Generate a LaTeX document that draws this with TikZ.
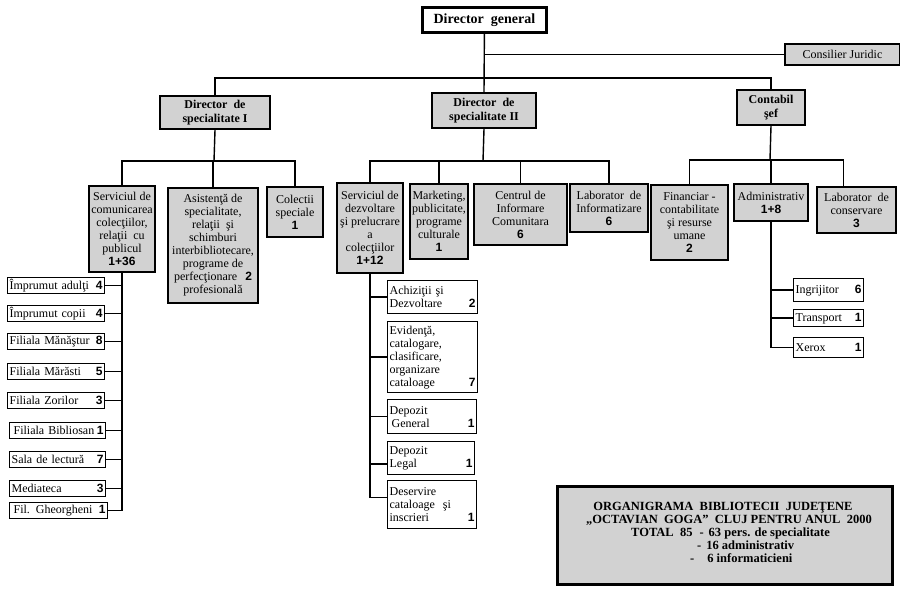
\documentclass[tikz,border=0pt]{standalone}
\usepackage{fontspec}
\setmainfont{Liberation Serif}
\setsansfont{Liberation Sans}
\usetikzlibrary{calc}
\definecolor{boxgray}{RGB}{210,210,210}
\newcommand\nm[1]{{\sffamily\bfseries\fontsize{12}{12}\selectfont #1}}
\newcommand\nr[1]{\hskip 0pt plus 1fill\nm{#1}}
\tikzset{
  gbox/.style={draw, line width=2pt, fill=boxgray, align=center, inner sep=1pt,
    anchor=north west, font=\fontsize{12}{13}\selectfont},
  dbox/.style={gbox, font=\bfseries\fontsize{12}{14}\selectfont},
  wbox/.style={draw, line width=1.3pt, fill=white, anchor=north west, align=left,
    inner xsep=2pt, inner ysep=0pt, font=\fontsize{12}{13}\selectfont},
  conn/.style={line width=1.4pt},
  ttl/.style={font=\bfseries\fontsize{12.5}{13}\selectfont, inner sep=0pt}
}
\begin{document}
\begin{tikzpicture}[x=1pt,y=-1pt]
\useasboundingbox (0,0) rectangle (900,591);
% top level
\node[draw, line width=2.8pt, fill=white, anchor=north west, minimum width=124,
  minimum height=25, inner sep=1pt, font=\bfseries\fontsize{14}{16}\selectfont]
  (dg) at (421,6) {Director~~general};
\node[gbox, minimum width=115, minimum height=21] (cj) at (784,43) {Consilier Juridic};
\node[dbox, minimum width=110, minimum height=33] (d1) at (159,95) {Director~ de\\specialitate I};
\node[dbox, minimum width=104, minimum height=35] (d2) at (431,92) {Director~ de\\specialitate II};
\node[dbox, minimum width=68, minimum height=35] (cb) at (736,89) {Contabil\\şef};
% Director I children
\node[gbox, minimum width=66, minimum height=86] (s1) at (88,185)
  {Serviciul de\\comunicarea\\colecţiilor,\\relaţii~ cu\\publicul\\\nm{1+36}};
\node[gbox, minimum width=90, minimum height=115] (as) at (167,187)
  {Asistenţă de\\specialitate,\\relaţii~ şi\\schimburi\\interbibliotecare,\\programe de\\perfecţionare\hspace{8pt}\nm{2}\\profesională};
\node[gbox, minimum width=56, minimum height=50] (col) at (266,186)
  {Colectii\\speciale\\\nm{1}};
% Director II children
\node[gbox, minimum width=66, minimum height=90] (s2) at (336,182)
  {Serviciul de\\dezvoltare\\şi prelucrare\\a\\colecţiilor\\\nm{1+12}};
\node[gbox, minimum width=58, minimum height=75] (mk) at (409,183)
  {Marketing,\\publicitate,\\programe\\culturale\\\nm{1}};
\node[gbox, minimum width=93, minimum height=61] (ci) at (473,183)
  {Centrul de\\Informare\\Comunitara\\\nm{6}};
\node[gbox, minimum width=78, minimum height=48] (li) at (569,183)
  {Laborator~ de\\Informatizare\\\nm{6}};
% Contabil children
\node[gbox, minimum width=77, minimum height=75] (fi) at (650,184)
  {Financiar -\\contabilitate\\şi resurse\\umane\\\nm{2}};
\node[gbox, minimum width=74, minimum height=37] (ad) at (733,183)
  {Administrativ\\\nm{1+8}};
\node[gbox, minimum width=79, minimum height=46] (lc) at (816,186)
  {Laborator~ de\\conservare\\\nm{3}};
% left list
\node[wbox, text width=93, minimum height=16] (l1) at (7,277) {Împrumut adulţi\nr{4}};
\node[wbox, text width=93, minimum height=16] (l2) at (7,305) {Împrumut copii\nr{4}};
\node[wbox, text width=93, minimum height=16] (l3) at (7,333) {Filiala Mănăştur\nr{8}};
\node[wbox, text width=93, minimum height=16] (l4) at (7,363) {Filiala Mărăsti\nr{5}};
\node[wbox, text width=93, minimum height=16] (l5) at (7,392) {Filiala Zorilor\nr{3}};
\node[wbox, text width=92, minimum height=16] (l6) at (9,422) {\hspace*{2pt}Filiala Bibliosan\nr{1}};
\node[wbox, text width=92, minimum height=16] (l7) at (9,451) {Sala de lectură\nr{7}};
\node[wbox, text width=92, minimum height=16] (l8) at (9,480) {Mediateca\nr{3}};
\node[wbox, text width=94, minimum height=16] (l9) at (9,502) {\hspace*{2pt}Fil. Gheorgheni\nr{1}};
% middle list
\node[wbox, text width=86, minimum height=33] (m1) at (387,280) {Achiziţii şi\\Dezvoltare\nr{2}};
\node[wbox, text width=86, minimum height=71] (m2) at (387,321)
  {Evidenţă,\\catalogare,\\clasificare,\\organizare\\cataloage\nr{7}};
\node[wbox, text width=85, minimum height=34] (m3) at (387,399) {Depozit\\\hspace*{2pt}General\nr{1}};
\node[wbox, text width=83, minimum height=33] (m4) at (387,441) {Depozit\\Legal\nr{1}};
\node[wbox, text width=85, minimum height=48] (m5) at (387,480)
  {Deservire\\cataloage\ \ şi\\inscrieri\nr{1}};
% right list
\node[wbox, text width=66, minimum height=23] (r1) at (793,278) {Ingrijitor\nr{6}};
\node[wbox, text width=66, minimum height=17] (r2) at (793,309) {Transport\nr{1}};
\node[wbox, text width=66, minimum height=20] (r3) at (793,337) {Xerox\nr{1}};
% title box
\node[gbox, line width=2.5pt, minimum width=335, minimum height=98] (tb) at (556,485) {};
\node[ttl, anchor=base] (tt1) at (723,510) {ORGANIGRAMA~ BIBLIOTECII~ JUDEŢENE};
\node[ttl, anchor=base] (tt2) at (729,523) {„OCTAVIAN~ GOGA”~ CLUJ PENTRU ANUL~ 2000};
\node[ttl, anchor=base west] (tt3) at (631,536) {TOTAL~ 85\hspace{7pt}-\hspace{5pt}63 pers. de specialitate};
\node[ttl, anchor=base west] (tt4) at (697,549) {-\hspace{5pt}16 administrativ};
\node[ttl, anchor=base west] (tt5) at (690,562) {-\hspace{13pt}6 informaticieni};
% connectors
\coordinate (t1) at (483,78);
\coordinate (t2) at (214,161);
\coordinate (t3) at (483,161);
\coordinate (t4) at (770,160);
\draw[conn] (dg.south) -- (d2.north);
\draw[conn] (cj.west) -- (cj.west -| dg.south);
\draw[conn] (d1.north) |- (t1) -| (cb.north);
\draw[conn] (d1.south) -- (t2);
\draw[conn] (s1.north) |- (t2) -| (col.north);
\draw[conn] (as.north) -- (as.north |- t2);
\draw[conn] (d2.south) -- (t3);
\draw[conn] (s2.north) |- (t3) -| (li.north);
\draw[conn] (mk.north) -- (mk.north |- t3);
\draw[conn] (ci.north) -- (ci.north |- t3);
\coordinate (lct) at ($(lc.north west)!0.34!(lc.north east)$);
\draw[conn] (cb.south) -- (t4);
\draw[conn] (fi.north) |- (t4) -| (lct);
\draw[conn] (ad.north) -- (ad.north |- t4);
% left list connectors
\draw[conn] (s1.south) -- (s1.south |- l9.east);
\foreach \n in {l1,l2,l3,l4,l5,l6,l7,l8,l9}
  \draw[conn] (\n.east) -- (\n.east -| s1.south);
% middle list connectors
\coordinate (m4c) at ($(m4.north west)!0.67!(m4.south west)$);
\coordinate (m5c) at ($(m5.north west)!0.35!(m5.south west)$);
\draw[conn] (s2.south) -- (s2.south |- m5c) -- (m5c);
\foreach \n in {m1,m2,m3}
  \draw[conn] (\n.west) -- (\n.west -| s2.south);
\draw[conn] (m4c) -- (m4c -| s2.south);
% right list connectors
\draw[conn] (ad.south) -- (ad.south |- r3.west) -- (r3.west);
\draw[conn] (r1.west) -- (r1.west -| ad.south);
\draw[conn] (r2.west) -- (r2.west -| ad.south);
\end{tikzpicture}
\end{document}
